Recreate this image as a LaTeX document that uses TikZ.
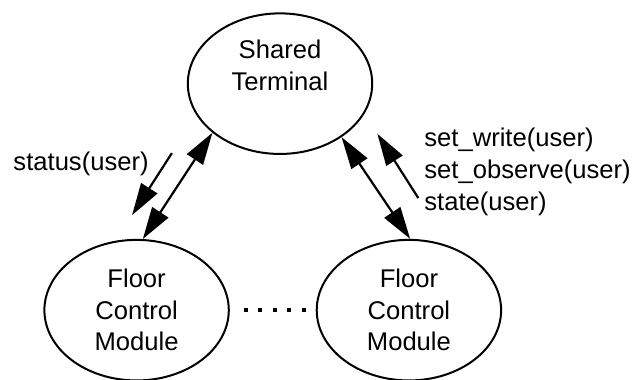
\documentclass[tikz,border=0pt]{standalone}
\usepackage{fontspec}
\setmainfont{Liberation Sans}
\usetikzlibrary{shapes.geometric}
\usetikzlibrary{arrows.meta}
\usetikzlibrary{positioning}

\tikzset{
    unit/.style={ellipse, draw, line width=1pt, minimum width=3.24cm, minimum height=2.47cm, inner sep=0pt, align=center},
    msg/.style={line width=1.1pt, -{Triangle[length=16pt, width=9.5pt]}},
    link/.style={line width=1.1pt, {Triangle[length=16pt, width=9.5pt]}-{Triangle[length=16pt, width=9.5pt]}},
    lbl/.style={inner sep=0pt, anchor=base west, align=left},
}

\begin{document}
\begin{tikzpicture}[font=\fontsize{12.8}{15.8}\selectfont]
        \useasboundingbox (0,0) rectangle (11.14,6.66);

        % Terminal and the two floor control modules
        \node[unit] (term) at (4.92,5.19) {};
        \node[align=center] (termtxt) at ([yshift=0.32cm]term.center) {Shared\\Terminal};
        \node[unit] (fcm1) at (2.40,1.21) {Floor\\Control\\Module};
        \node[unit, right=1.51cm of fcm1] (fcm2) {Floor\\Control\\Module};

        % more modules in between
        \draw[line width=2pt, dash pattern=on 2pt off 5.25pt, shorten <=7pt, shorten >=2pt] (fcm1) -- (fcm2);

        % Connections
        \draw[link] (term.216.5) -- (fcm1.85);
        \draw[link] (term.319.7) -- (fcm2.89);

        % Messages
        \coordinate (s1) at (3.02,3.97);
        \coordinate (s1e) at (2.32,2.88);
        \draw[msg] (s1) -- (s1e);
        \coordinate (s2) at (7.35,3.18);
        \coordinate (s2e) at (6.63,4.31);
        \draw[msg] (s2) -- (s2e);

        % Labels
        \node[lbl] (statuslbl) at (0.23,3.66) {status(user)};
        \node[lbl] (ctrllbl) at (7.45,2.97) {set\_write(user)\\set\_observe(user)\\state(user)};

\end{tikzpicture}
\end{document}
